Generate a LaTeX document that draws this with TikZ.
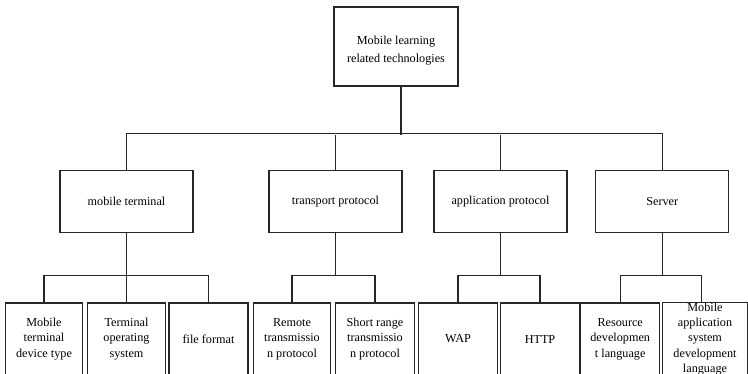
\documentclass[tikz,border=0pt]{standalone}
\usepackage{fontspec}
\setmainfont{Liberation Serif}
\begin{document}
\begin{tikzpicture}[x=1pt,y=-1pt,
  box/.style={draw=black!85,line width=1.2pt,rectangle,inner sep=0pt,align=center,
    font=\fontsize{12.2}{15.4}\selectfont},
  topbox/.style={box,minimum width=124pt,minimum height=79pt},
  midbox/.style={box,minimum width=133pt,minimum height=61.6pt},
  leafbox/.style={box,minimum height=72pt},
  link/.style={draw=black!85,line width=1.2pt}]
\useasboundingbox (0,0) rectangle (748,373);
\clip (0,0) rectangle (748,373);

% root
\node[topbox] (root) at (396,46.5) {};
\node[font=\fontsize{12.2}{18}\selectfont,align=center] (roottext) at (396,51) {Mobile learning\\related technologies};

% second level
\node[midbox] (mt) at (126.5,201.5) {mobile terminal};
\node[midbox] (tp) at (335.5,201.5) {transport protocol};
\node[midbox] (ap) at (500.5,201.5) {application protocol};
\node[midbox] (sv) at (662.3,201.5) {Server};

% leaves
\node[leafbox,minimum width=76.6pt] (l1) at (44,339) {Mobile\\terminal\\device type};
\node[leafbox,minimum width=78.4pt] (l2) at (126.5,339) {Terminal\\operating\\system};
\node[leafbox,minimum width=79pt] (l3) at (208.5,339) {file format};
\node[leafbox,minimum width=77.4pt] (l4) at (292,339) {Remote\\transmissio\\n protocol};
\node[leafbox,minimum width=78.6pt] (l5) at (375,339) {Short range\\transmissio\\n protocol};
\node[leafbox,minimum width=79.4pt] (l6) at (458,339) {WAP};
\node[leafbox,minimum width=78.3pt] (l7) at (540,339) {HTTP};
\node[leafbox,minimum width=79pt] (l8) at (620.2,339) {Resource\\developmen\\t language};
\node[leafbox,minimum width=84.6pt] (l9) at (705,339) {Mobile\\application\\system\\development\\language};

% bus levels
\coordinate (rootdrop) at (401,86);
\coordinate (rootbus) at (401,135);
\coordinate (l9in) at (701.5,303);

% root to second level
\draw[link] (rootdrop) -- (rootbus);
\draw[link] (mt.north) -- ++(0,-36.3) -| (sv.north);
\draw[link] (tp.north) -- (tp.north |- rootbus);
\draw[link] (ap.north) -- (ap.north |- rootbus);

% mobile terminal branch
\draw[link] (mt.south) -- (l2.north);
\draw[link] (l1.north) -- ++(0,-27) -| (l3.north);

% transport protocol branch
\draw[link] (tp.south) -- (tp.south |- 0,276);
\draw[link] (l4.north) -- ++(0,-27) -| (l5.north);

% application protocol branch
\draw[link] (ap.south) -- (ap.south |- 0,276);
\draw[link] (l6.north) -- ++(0,-27) -| (l7.north);

% server branch
\draw[link] (sv.south) -- (sv.south |- 0,276);
\draw[link] (l8.north) -- ++(0,-27) -| (l9in);
\end{tikzpicture}
\end{document}
